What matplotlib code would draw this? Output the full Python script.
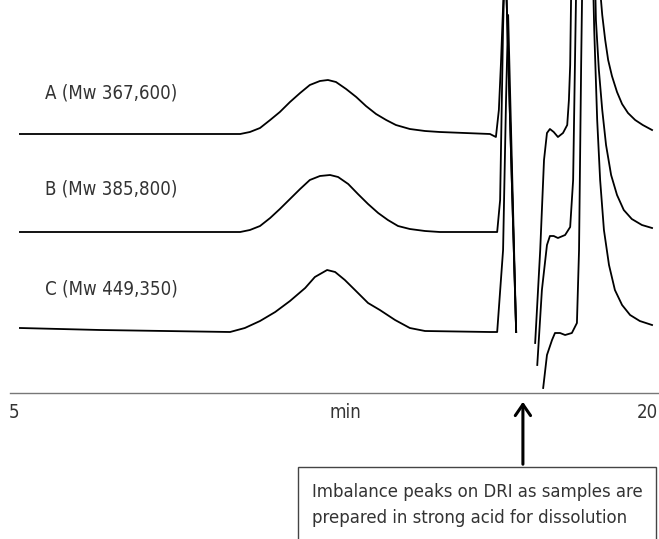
import matplotlib
matplotlib.use("Agg")
import matplotlib.pyplot as plt
from matplotlib.patches import Rectangle
import numpy as np

nan = np.nan
# time (min) and detector response (arbitrary units, 0 = time axis line)
t_a = [5.14, 10.36, 10.59, 10.83, 11.07, 11.30, 11.54, 11.78, 12.01, 12.25, 12.44, 12.63, 12.87, 13.11,
       13.34, 13.58, 13.82, 14.05, 14.38, 14.74, 15.09, 16.28, 16.42, 16.49, 16.54, 16.64, 16.90, nan,
       17.35, 17.47, 17.56, 17.63, 17.70, 17.79, 17.89, 18.01, 18.11, 18.15, 18.18, 18.22,
       18.79, 18.94, 19.01, 19.08, 19.17, 19.29, 19.41, 19.55, 19.72, 19.90, 20.12]
s_a = [259, 259, 261, 265, 273, 281, 291, 300, 308, 312, 313, 311, 304, 296,
       287, 279, 273, 268, 264, 262, 261, 259, 256, 283, 330, 443, 61, nan,
       50, 143, 233, 260, 264, 261, 256, 260, 268, 293, 328, 453,
       453, 378, 353, 333, 317, 301, 289, 280, 273, 268, 263]

t_b = [5.14, 10.36, 10.59, 10.83, 11.07, 11.30, 11.54, 11.78, 12.01, 12.25, 12.49, 12.68, 12.92, 13.15,
       13.39, 13.63, 13.86, 14.10, 14.38, 14.74, 15.09, 16.28, 16.45, 16.52, 16.59, 16.64, 16.90, nan,
       17.40, 17.51, 17.63, 17.70, 17.79, 17.89, 18.06, 18.18, 18.25, 18.29, 18.34,
       18.75, 18.79, 18.86, 18.94, 19.03, 19.15, 19.29, 19.45, 19.64, 19.88, 20.12]
s_b = [161, 161, 163, 167, 175, 184, 194, 204, 213, 217, 218, 216, 209, 199,
       189, 180, 173, 167, 164, 162, 161, 161, 161, 193, 366, 443, 61, nan,
       28, 103, 148, 157, 157, 155, 158, 166, 213, 321, 453,
       453, 373, 323, 283, 248, 218, 198, 183, 174, 168, 165]

t_c = [5.14, 7.04, 10.12, 10.47, 10.83, 11.19, 11.54, 11.90, 12.13, 12.42, 12.61, 12.84, 13.08, 13.39,
       13.67, 14.03, 14.38, 14.74, 16.28, 16.45, 16.59, 16.66, 16.71, 16.90, nan,
       17.54, 17.63, 17.75, 17.82, 17.94, 18.06, 18.22, 18.34, 18.39, 18.44, 18.48,
       18.70, 18.75, 18.82, 18.89, 18.98, 19.10, 19.24, 19.41, 19.60, 19.83, 20.12]
s_c = [65, 63, 61, 65, 72, 81, 92, 105, 116, 123, 121, 113, 103, 90,
       83, 73, 65, 62, 61, 61, 143, 293, 378, 61, nan,
       5, 38, 53, 60, 60, 58, 60, 70, 143, 328, 453,
       453, 363, 273, 213, 163, 128, 103, 88, 78, 72, 68]

labels = ["A (Mw 367,600)", "B (Mw 385,800)", "C (Mw 449,350)"]
label_y = [300, 204, 104]
xticks = [5, 20]
note_lines = ["Imbalance peaks on DRI as samples are", "prepared in strong acid for dissolution"]

plt.rcParams["font.family"] = ["DejaVu Sans"]
TXT = "#333333"
STRETCH = "condensed"

fig = plt.figure(figsize=(6.59, 5.39), dpi=100)
ax = fig.add_axes([0, 0, 1, 1])
ax.set_xlim(4.668, 20.285)
ax.set_ylim(-146, 393)
ax.axis("off")

for t, s in [(t_a, s_a), (t_b, s_b), (t_c, s_c)]:
    ax.plot(t, s, color="black", lw=1.3)

for lab, y in zip(labels, label_y):
    ax.text(5.73, y, lab, fontsize=13.4, va="center", ha="left", color=TXT, fontstretch=STRETCH)

ax.plot([4.90, 20.285], [0, 0], color="#777777", lw=1)
for xt in xticks:
    ax.text(xt, -19, str(xt), fontsize=13.4, ha="center", va="center", color=TXT, fontstretch=STRETCH)
ax.text(12.85, -19, "min", fontsize=13.4, ha="center", va="center", color=TXT, fontstretch=STRETCH)

# arrow to imbalance peaks
ax.annotate("", xy=(17.06, -6), xytext=(17.06, -74),
            arrowprops=dict(arrowstyle="->,head_length=0.8,head_width=0.55", color="black", lw=2.2))
ax.add_patch(Rectangle((11.73, -200), 20.21 - 11.73, 126, fc="white", ec="#444444", lw=1))
for i, line in enumerate(note_lines):
    ax.text(12.06, -99 - 26 * i, line, fontsize=13.2, ha="left", va="center", color=TXT,
            fontstretch=STRETCH)

fig.savefig("out.png", dpi=100)
